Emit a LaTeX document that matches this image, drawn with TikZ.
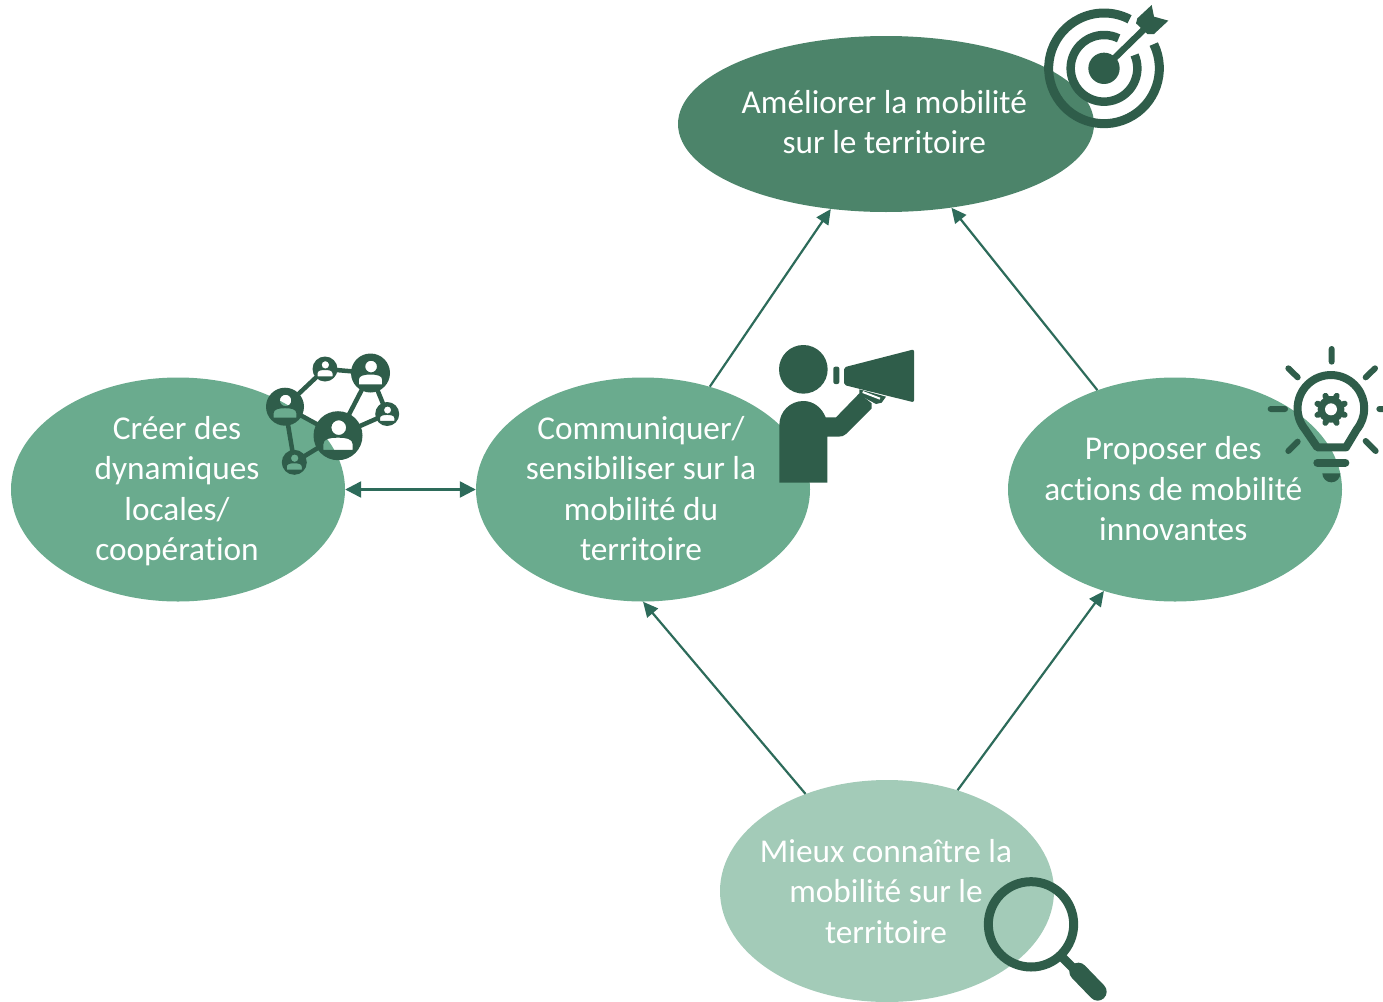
\documentclass[tikz,border=0pt]{standalone}
\usepackage{fontspec}
\setmainfont[Ligatures=NoCommon]{Carlito}
\usetikzlibrary{shapes.geometric,arrows.meta}
\definecolor{topgreen}{HTML}{4C846A}
\definecolor{midgreen}{HTML}{6AAB8E}
\definecolor{lightgreen}{HTML}{A3CBB8}
\definecolor{icongreen}{HTML}{2F5D4A}
\definecolor{arrowgreen}{HTML}{2D6B5A}
\tikzset{
  goal/.style={ellipse,inner sep=0pt,text=white,font=\fontsize{33.3}{40.5}\selectfont,minimum width=334pt,minimum height=224pt},
  link/.style={draw=arrowgreen,line width=2.2pt,-{Triangle[length=15pt,width=14pt]}},
  biglink/.style={draw=arrowgreen,line width=2.4pt,{Triangle[length=16pt,width=16pt]}-{Triangle[length=16pt,width=16pt]}},
  iconline/.style={draw=icongreen,line cap=round},
  hub/.style={circle,inner sep=0pt,outer sep=0pt},
  hublink/.style={draw=icongreen,line width=4.5pt,shorten <=-1pt,shorten >=-1pt},
}
\newcommand{\goaltext}[3]{\makebox[0pt]{\raisebox{#1pt}[0pt][0pt]{\hspace*{#2pt}\begin{tabular}{@{}c@{}}#3\end{tabular}}}}
\newcommand{\netperson}[3]{%
  \begin{scope}[shift={(#1,#2)},x=#3pt,y=-#3pt]
  \fill[icongreen,even odd rule] (0,0) circle[radius=1] (0.03,-.33) circle[radius=.3]
   (-.6,.58) -- (-.6,.35) .. controls (-.6,.12) and (-.3,.08) .. (0,.08) .. controls (.3,.08) and (.6,.12) .. (.6,.35) -- (.6,.58) -- cycle;
  \end{scope}}
\begin{document}
\begin{tikzpicture}[x=1pt,y=-1pt]
\useasboundingbox (0,0) rectangle (1383,1001);
\node[goal,fill=topgreen,minimum width=416pt,minimum height=176pt] (top) at (886,124) {\goaltext{-7.8}{-3.4}{Améliorer la mobilité\\sur le territoire}};
\node[goal,fill=midgreen] (left) at (178,489.5) {\goaltext{-8.4}{-2}{Créer des\\dynamiques\\locales/\\coopération}};
\node[goal,fill=midgreen] (mid) at (643,489.5) {\goaltext{-8.4}{-4}{Communiquer/\\sensibiliser sur la\\mobilité du\\territoire}};
\node[goal,fill=midgreen] (right) at (1175,489.5) {\goaltext{-8.8}{-3.5}{Proposer des\\actions de mobilité\\innovantes}};
\node[goal,fill=lightgreen,minimum height=222pt] (bottom) at (887,891) {\goaltext{-10}{-2}{Mieux connaître la\\mobilité sur le\\territoire}};
\draw[link] (mid.57.6) -- (top.237.6);
\draw[link] (right.128.5) -- (top.-52.3);
\draw[link] (bottom.130) -- (mid.-90.5);
\draw[link] (bottom.55) -- (right.235.6);
\draw[biglink] (left.east) -- (mid.west);
% target icon
\begin{scope}[shift={(1030,0)},x=.33333pt,y=-.33333pt]
\draw[icongreen,line width=9pt] (222,205) ++(-26:166) arc[start angle=-26,end angle=297.5,radius=166];
\draw[icongreen,line width=8.5pt] (222,205) ++(-23.6:100) arc[start angle=-23.6,end angle=296,radius=100];
\fill[icongreen] (222,205) circle[radius=47];
\draw[icongreen,line width=6.5pt] (222,205) -- (345,85);
\fill[icongreen] (365,15) -- (372,50) -- (415,62) -- (372,102) -- (352,102) -- (318,70) -- (322,55) -- cycle;
\end{scope}
% network icon
\node[hub,minimum size=38pt] (na) at (285,406.7) {};
\node[hub,minimum size=25pt] (nb) at (325,369) {};
\node[hub,minimum size=39pt] (nc) at (370.5,373) {};
\node[hub,minimum size=24pt] (nd) at (387.2,414) {};
\node[hub,minimum size=49pt] (ne) at (338,435.7) {};
\node[hub,minimum size=25pt] (nf) at (294.3,462.3) {};
\draw[hublink] (na) -- (nb);
\draw[hublink] (nb) -- (nc);
\draw[hublink] (nc) -- (nd);
\draw[hublink] (nd) -- (ne);
\draw[hublink] (nc) -- (ne);
\draw[hublink] (na) -- (ne);
\draw[hublink] (ne) -- (nf);
\draw[hublink] (nf) -- (na);
\netperson{285}{406.7}{19}
\netperson{325}{369}{12.5}
\netperson{370.5}{373}{19.5}
\netperson{387.2}{414}{12}
\netperson{338}{435.7}{24.5}
\netperson{294.3}{462.3}{12.5}
% megaphone person icon
\begin{scope}[shift={(770,340)},x=.33333pt,y=-.33333pt]
\fill[icongreen] (100,88) circle[radius=73];
\fill[icongreen] (28,428) -- (28,255) .. controls (28,215) and (60,183) .. (100,183) .. controls (130,183) and (155,202) .. (167,232) -- (198,232) -- (268,160) -- (305,190) -- (305,205) -- (228,282) .. controls (222,288) and (215,290) .. (205,290) -- (172,290) -- (172,428) -- cycle;
\fill[icongreen,rounded corners=2pt] (222,82) -- (432,28) -- (432,187) -- (222,135) -- cycle;
\fill[icongreen,rounded corners=2pt] (190,80) rectangle (208,132);
\fill[icongreen] (268,148) -- (348,170) -- (335,188) -- (318,192) -- (268,165) -- cycle;
\draw[white,line width=2pt] (278,156) -- (330,176);
\end{scope}
% bulb icon
\begin{scope}[shift={(1260,340)},x=.33333pt,y=-.33333pt]
\draw[icongreen,line width=8pt,line join=round] (172,322) -- (135,268) arc[start angle=141,end angle=399,radius=100] -- (258,322) -- cycle;
\draw[iconline,line width=6pt]
  (215,27) -- (215,65) (85,85) -- (113,112) (345,85) -- (317,112)
  (32,207) -- (75,207) (358,207) -- (385,207) (85,333) -- (113,305) (347,333) -- (317,303);
\draw[iconline,line width=8pt] (172,368) -- (256,368);
\fill[icongreen] (187,400) -- (241,400) arc[start angle=0,end angle=180,radius=27] -- cycle;
\fill[icongreen] (213,208) circle[radius=40];
\foreach \a in {0,45,...,315}{\draw[iconline,line width=6pt] (213,208) ++(\a+22.5:30) -- ++(\a+22.5:14);}
\fill[white] (213,208) circle[radius=18];
\end{scope}
% magnifier icon
\begin{scope}[shift={(975,870)},x=.33333pt,y=-.33333pt]
\draw[icongreen,line width=9pt] (168,163) circle[radius=128];
\draw[icongreen,line width=9pt] (258,258) -- (305,305);
\draw[iconline,line width=18pt] (310,305) -- (368,365);
\end{scope}
\end{tikzpicture}
\end{document}
